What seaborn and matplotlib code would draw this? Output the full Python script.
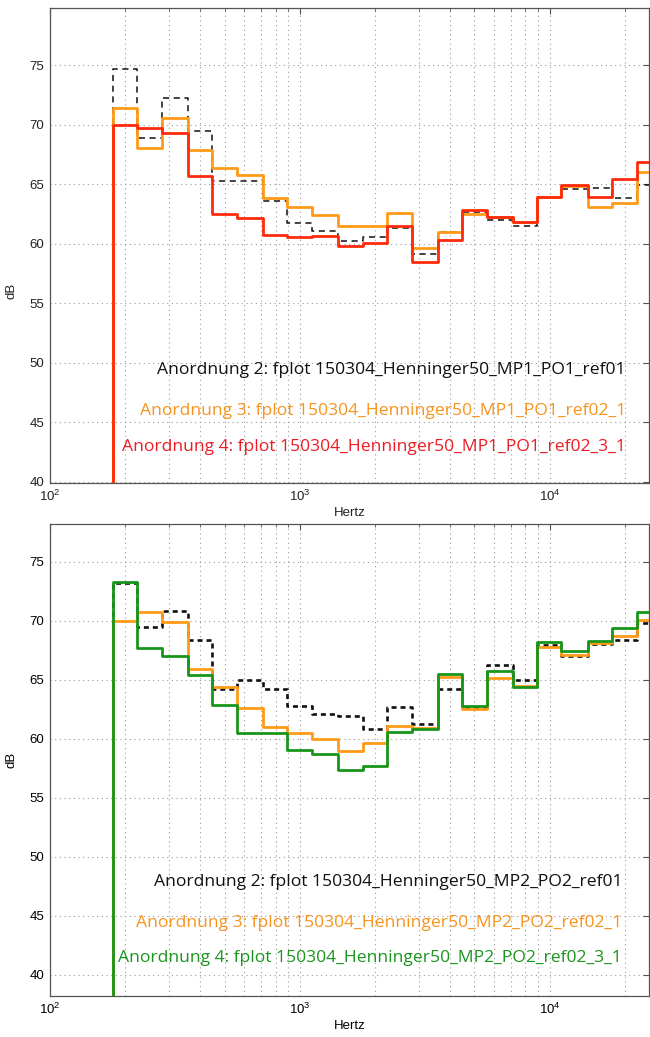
import numpy as np
import pandas as pd
import matplotlib
matplotlib.use("Agg")
import matplotlib.pyplot as plt
import seaborn as sns
from matplotlib.ticker import LogLocator, FixedLocator, NullFormatter

# ---------------- data ----------------
bands_hz = [200, 250, 315, 400, 500, 630, 800, 1000, 1250, 1600, 2000, 2500,
            3150, 4000, 5000, 6300, 8000, 10000, 12500, 16000, 20000, 25000]
floor_db = 0.0  # level the step trace starts from (below the axes)

top_anordnung2 = [74.7, 68.9, 72.2, 69.5, 65.3, 65.3, 63.55, 61.7, 61.05, 60.25, 60.6,
                  61.3, 59.1, 61.0, 62.7, 62.0, 61.5, 63.9, 64.6, 64.7, 63.8, 64.9]
top_anordnung3 = [71.4, 68.05, 70.55, 67.9, 66.35, 65.75, 63.8, 63.1, 62.45, 61.45, 61.45,
                  62.6, 59.65, 61.0, 62.5, 62.25, 61.8, 63.9, 64.85, 63.1, 63.45, 66.0]
top_anordnung4 = [70.0, 69.75, 69.3, 65.7, 62.5, 62.15, 60.75, 60.55, 60.65, 59.85, 60.1,
                  61.5, 58.5, 60.35, 62.85, 62.25, 61.8, 63.95, 64.9, 63.9, 65.45, 66.9]

bot_anordnung2 = [73.2, 69.5, 70.85, 68.35, 64.2, 64.95, 64.25, 62.8, 62.1, 61.9, 60.8,
                  62.7, 61.25, 64.25, 62.7, 66.25, 65.0, 67.95, 67.05, 68.0, 68.35, 69.8]
bot_anordnung3 = [70.0, 70.7, 69.9, 65.9, 64.4, 62.6, 61.0, 60.45, 60.0, 58.95, 59.6,
                  61.1, 60.95, 65.2, 62.5, 65.15, 64.5, 67.8, 67.1, 68.1, 68.7, 70.1]
bot_anordnung4 = [73.3, 67.7, 67.0, 65.4, 62.9, 60.45, 60.45, 59.05, 58.7, 57.35, 57.65,
                  60.6, 60.8, 65.45, 62.8, 65.7, 64.4, 68.2, 67.45, 68.25, 69.35, 70.75]

top_labels = ["Anordnung 2: fplot 150304_Henninger50_MP1_PO1_ref01",
              "Anordnung 3: fplot 150304_Henninger50_MP1_PO1_ref02_1",
              "Anordnung 4: fplot 150304_Henninger50_MP1_PO1_ref02_3_1"]
bot_labels = ["Anordnung 2: fplot 150304_Henninger50_MP2_PO2_ref01",
              "Anordnung 3: fplot 150304_Henninger50_MP2_PO2_ref02_1",
              "Anordnung 4: fplot 150304_Henninger50_MP2_PO2_ref02_3_1"]

x_label = "Hertz"
y_label = "dB"
y_ticks = [40, 45, 50, 55, 60, 65, 70, 75]

# ---------------- style ----------------
sns.set_style("white")
plt.rcParams["font.family"] = ["Liberation Sans", "DejaVu Sans"]
plt.rcParams["mathtext.fontset"] = "custom"
plt.rcParams["mathtext.rm"] = "Liberation Sans"
plt.rcParams["mathtext.it"] = "Liberation Sans:italic"

BLACK = "#111111"
ORANGE = "#ff9a17"
RED = "#ff2a0c"
GREEN = "#17961a"
TXT_ORANGE = "#f7941d"
TXT_RED = "#ec1c24"
TXT_GREEN = "#1b951f"

W, H = 650, 1037
fig = plt.figure(figsize=(W / 100, H / 100), dpi=100)
ax1 = fig.add_axes([50 / W, 1 - 483 / H, 599 / W, 475 / H])
ax2 = fig.add_axes([50 / W, 1 - 996 / H, 599 / W, 472 / H])


def step_frame(values):
    lo = np.array(bands_hz, float) * 10 ** (-0.05)
    hi = np.array(bands_hz, float)[-1] * 10 ** 0.05
    xs = np.concatenate([[lo[0]], lo, [hi]])
    ys = np.concatenate([[floor_db], values, [values[-1]]])
    return pd.DataFrame({"Hz": xs, "dB": ys})


def draw(ax, values, color, lw, dashes=None, z=2):
    kw = dict(drawstyle="steps-post", color=color, lw=lw, zorder=z)
    if dashes is not None:
        kw["dashes"] = dashes
    sns.lineplot(data=step_frame(values), x="Hz", y="dB", estimator=None,
                 sort=False, ax=ax, **kw)


def style_axes(ax, ylim, ylab_y, tick_color):
    ax.set_xscale("log")
    ax.set_xlim(100, 25000)
    ax.set_ylim(*ylim)
    ax.yaxis.set_major_locator(FixedLocator(y_ticks))
    ax.xaxis.set_major_locator(LogLocator(base=10))
    ax.xaxis.set_minor_locator(LogLocator(base=10, subs=np.arange(2, 10)))
    ax.xaxis.set_minor_formatter(NullFormatter())
    gkw = dict(color="#9a9a9a", lw=0.8, linestyle=(0, (1, 3.2)))
    ax.grid(True, which="major", axis="both", **gkw)
    ax.grid(True, which="minor", axis="x", **gkw)
    ax.set_axisbelow(True)
    ax.tick_params(which="both", direction="in", top=True, right=True,
                   colors="#555555", labelcolor=tick_color, labelsize=9.5, pad=4)
    ax.tick_params(which="major", length=4.5, width=0.8)
    ax.tick_params(which="minor", length=2.5, width=0.6)
    for s in ax.spines.values():
        s.set_color("#555555")
        s.set_linewidth(0.9)
        s.set_visible(True)
    ax.set_xlabel(x_label, fontsize=9.5, labelpad=2, color=tick_color)
    ax.set_ylabel(y_label, fontsize=9.5, color=tick_color)
    ax.yaxis.set_label_coords(-0.055, ylab_y)


# top panel
draw(ax1, top_anordnung2, BLACK, 1.1, dashes=(4, 3), z=2)
draw(ax1, top_anordnung3, ORANGE, 2.0, z=3)
draw(ax1, top_anordnung4, RED, 2.0, z=4)
style_axes(ax1, (39.9, 79.8), 0.405, "#222222")

# bottom panel
draw(ax2, bot_anordnung2, BLACK, 1.9, dashes=(1.9, 1.5), z=2)
draw(ax2, bot_anordnung3, ORANGE, 2.0, z=3)
draw(ax2, bot_anordnung4, GREEN, 2.0, z=4)
style_axes(ax2, (38.2, 78.2), 0.5, "#000000")

tfont = dict(family=["Open Sans", "DejaVu Sans"], fontsize=12.6, ha="right",
             va="center", zorder=6)
for ax, labels, cols, ys, xr in [
    (ax1, top_labels, [BLACK, TXT_ORANGE, TXT_RED], [0.238, 0.152, 0.0764], 0.9616),
    (ax2, bot_labels, [BLACK, TXT_ORANGE, TXT_GREEN], [0.242, 0.155, 0.0805], 0.955),
]:
    for lab, c, yy in zip(labels, cols, ys):
        ax.text(xr, yy, lab, color=c, transform=ax.transAxes, **tfont)

fig.savefig("out.png", dpi=100)
